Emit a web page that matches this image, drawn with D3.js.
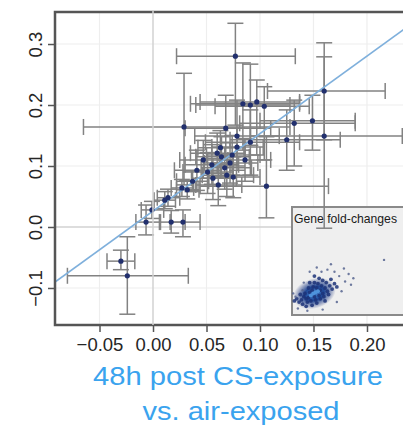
<!DOCTYPE html>
<html>
<head>
<meta charset="utf-8">
<script src="https://cdn.jsdelivr.net/npm/d3@7/dist/d3.min.js"></script>
<style>
    body { margin: 0; background: #fff; }
    svg { display: block; font-family: "Liberation Sans", Arial, sans-serif; }
    .axis text { fill: #262626; font-size: 18.5px; }
    .axis line { stroke: #555; stroke-width: 1.5; }
    .bar { stroke: #828282; stroke-width: 1.5; fill: none; }
    .dot { fill: #22306e; }
</style>
</head>
<body>
<svg id="chart"></svg>
<script>
// point estimates and 95% intervals
var estX  = [0.077, 0.160, 0.160, 0.029, 0.084, 0.091, 0.097, 0.104, 0.132, 0.149, 0.125, 0.106,
             0.068, 0.0785, 0.091, 0.041, 0.051, 0.055, 0.060, 0.064, 0.067, 0.072, 0.069, 0.074,
             0.0785, 0.056, 0.075, 0.047, 0.086, 0.061, 0.027, 0.014, 0.011, -0.001, -0.0065, 0.017,
             0.028, 0.032, -0.030, -0.024, 0.037, 0.063];
var estY  = [0.280, 0.223, 0.149, 0.164, 0.202, 0.200, 0.205, 0.198, 0.170, 0.174, 0.143, 0.067,
             0.162, 0.149, 0.139, 0.093, 0.090, 0.102, 0.121, 0.115, 0.097, 0.105, 0.085, 0.118,
             0.131, 0.080, 0.082, 0.110, 0.110, 0.069, 0.064, 0.048, 0.044, 0.028, 0.008, 0.008,
             0.008, 0.061, -0.056, -0.080, 0.075, 0.130];
var xLow  = [0.022, 0.107, 0.091, -0.065, 0.035, 0.040, 0.044, 0.058, 0.081, 0.100, 0.072, 0.044,
             0.030, 0.039, 0.049, 0.020, 0.028, 0.030, 0.035, 0.040, 0.045, 0.048, 0.046, 0.050,
             0.055, 0.036, 0.052, 0.025, 0.062, 0.040, 0.017, 0.004, 0.001, -0.011, -0.016, 0.007,
             0.016, 0.022, -0.043, -0.080, 0.022, 0.042];
var xHigh = [0.133, 0.217, 0.233, 0.128, 0.137, 0.128, 0.137, 0.146, 0.189, 0.189, 0.175, 0.164,
             0.110, 0.118, 0.137, 0.063, 0.075, 0.080, 0.086, 0.090, 0.092, 0.098, 0.094, 0.100,
             0.103, 0.078, 0.100, 0.070, 0.110, 0.083, 0.038, 0.025, 0.021, 0.010, 0.006, 0.030,
             0.044, 0.043, -0.017, 0.033, 0.052, 0.085];
var yLow  = [0.167, 0.143, -0.002, 0.069, 0.126, 0.134, 0.118, 0.110, 0.100, 0.126, 0.093, 0.015,
             0.110, 0.093, 0.085, 0.060, 0.055, 0.070, 0.088, 0.082, 0.062, 0.072, 0.050, 0.085,
             0.100, 0.045, 0.048, 0.080, 0.075, 0.035, 0.050, 0.034, 0.030, 0.014, -0.013, -0.010,
             -0.016, 0.046, -0.070, -0.143, 0.058, 0.105];
var yHigh = [0.334, 0.302, 0.279, 0.252, 0.269, 0.267, 0.241, 0.230, 0.208, 0.216, 0.192, 0.148,
             0.216, 0.208, 0.192, 0.126, 0.122, 0.135, 0.154, 0.148, 0.130, 0.138, 0.118, 0.150,
             0.162, 0.112, 0.115, 0.142, 0.145, 0.100, 0.078, 0.062, 0.058, 0.042, 0.036, 0.027,
             0.028, 0.076, -0.038, -0.016, 0.092, 0.158];

// regression line end points
var fitX = [-0.0916, 0.2402];
var fitY = [-0.0902, 0.3314];

var xTicks = [-0.05, 0.00, 0.05, 0.10, 0.15, 0.20];
var yTicks = [-0.1, 0.0, 0.1, 0.2, 0.3];

// inset: gene fold-changes cloud (relative units)
var geneU = [0.20, 0.18, 0.22, 0.16, 0.24, 0.19, 0.21, 0.14, 0.26, 0.17, 0.23, 0.12, 0.28, 0.15, 0.25,
             0.20, 0.10, 0.30, 0.18, 0.22, 0.13, 0.27, 0.08, 0.32, 0.16, 0.24, 0.11, 0.29, 0.19, 0.06,
             0.34, 0.14, 0.21, 0.09, 0.26, 0.31, 0.17, 0.04, 0.36, 0.12, 0.23, 0.07, 0.33, 0.28, 0.15,
             0.38, 0.02, 0.19, 0.40, 0.36, 0.30, 0.25, 0.42, 0.45, 0.10, 0.05, 0.13, 0.21, 0.48, 0.44,
             0.33, 0.50, 0.78, 0.38, 0.26, 0.15, 0.52, 0.01, 0.03, 0.09];
var geneV = [0.21, 0.20, 0.22, 0.18, 0.23, 0.17, 0.25, 0.16, 0.20, 0.23, 0.18, 0.15, 0.25, 0.21, 0.27,
             0.14, 0.17, 0.22, 0.26, 0.29, 0.12, 0.17, 0.14, 0.27, 0.13, 0.15, 0.20, 0.30, 0.30, 0.12,
             0.24, 0.25, 0.11, 0.10, 0.32, 0.19, 0.09, 0.15, 0.29, 0.08, 0.34, 0.19, 0.33, 0.13, 0.30,
             0.26, 0.13, 0.36, 0.36, 0.40, 0.42, 0.40, 0.22, 0.31, 0.30, 0.06, 0.04, 0.44, 0.38, 0.43,
             0.47, 0.28, 0.51, 0.12, 0.05, 0.40, 0.34, 0.20, 0.17, 0.23];

var margin = { top: 12, left: 55 },
    width = 355, height = 313;

var svg = d3.select("#chart").attr("width", 403).attr("height", 426);

var x = d3.scaleLinear().domain([-0.0916, 0.2402]).range([margin.left, margin.left + width]);
var y = d3.scaleLinear().domain([-0.1607, 0.3525]).range([margin.top + height, margin.top]);

var defs = svg.append("defs");
defs.append("clipPath").attr("id", "clip")
    .append("rect").attr("x", margin.left).attr("y", margin.top).attr("width", width).attr("height", height);
var grad = defs.append("radialGradient").attr("id", "blob");
grad.append("stop").attr("offset", "0%").attr("stop-color", "#4a8ad8");
grad.append("stop").attr("offset", "45%").attr("stop-color", "#1f4796");
grad.append("stop").attr("offset", "100%").attr("stop-color", "#1b2f78").attr("stop-opacity", 0);

var plot = svg.append("g").attr("clip-path", "url(#clip)");

// faint grid
plot.selectAll(".gx").data(xTicks.filter(function (d) { return d !== 0; }))
    .enter().append("line")
    .attr("x1", function (d) { return x(d); }).attr("x2", function (d) { return x(d); })
    .attr("y1", margin.top).attr("y2", margin.top + height)
    .attr("stroke", "#eeeeee").attr("stroke-width", 1.2);
plot.selectAll(".gy").data(yTicks.filter(function (d) { return d !== 0; }))
    .enter().append("line")
    .attr("y1", function (d) { return y(d); }).attr("y2", function (d) { return y(d); })
    .attr("x1", margin.left).attr("x2", margin.left + width)
    .attr("stroke", "#eeeeee").attr("stroke-width", 1.2);

plot.append("line").attr("x1", margin.left).attr("x2", margin.left + width)
    .attr("y1", y(0)).attr("y2", y(0)).attr("stroke", "#d2d2d2").attr("stroke-width", 1.5);

// inset panel
var ix = d3.scaleLinear().domain([0, 1]).range([292, 410]);
var iy = d3.scaleLinear().domain([0, 1]).range([315, 207]);
var inset = plot.append("g");
inset.append("rect").attr("x", 292).attr("y", 207).attr("width", 118).attr("height", 108)
    .attr("fill", "#efefef").attr("stroke", "#8a8a8a").attr("stroke-width", 2);
inset.append("ellipse").attr("cx", ix(0.19)).attr("cy", iy(0.2))
    .attr("rx", 22).attr("ry", 15).attr("fill", "url(#blob)")
    .attr("transform", "rotate(-18," + ix(0.19) + "," + iy(0.2) + ")");
inset.selectAll(".g").data(geneU).enter().append("circle")
    .attr("cx", function (d) { return ix(d); })
    .attr("cy", function (d, i) { return iy(geneV[i]); })
    .attr("r", function (d, i) { return i < 48 ? 1.9 : 1.2; })
    .attr("fill", function (d, i) { return i < 48 ? "#1c3278" : "#56648f"; })
    .attr("fill-opacity", 0.85);
inset.selectAll(".gc").data(geneU.slice(0, 4)).enter().append("circle")
    .attr("cx", function (d) { return ix(d); })
    .attr("cy", function (d, i) { return iy(geneV[i]); })
    .attr("r", 2).attr("fill", "#4f93dc");

// error bars
var cap = 8;
var bars = plot.append("g").attr("class", "bar");
estX.forEach(function (d, i) {
    var cx = x(d), cy = y(estY[i]);
    bars.append("line").attr("x1", x(xLow[i])).attr("x2", x(xHigh[i])).attr("y1", cy).attr("y2", cy);
    bars.append("line").attr("x1", x(xLow[i])).attr("x2", x(xLow[i])).attr("y1", cy - cap).attr("y2", cy + cap);
    bars.append("line").attr("x1", x(xHigh[i])).attr("x2", x(xHigh[i])).attr("y1", cy - cap).attr("y2", cy + cap);
    bars.append("line").attr("x1", cx).attr("x2", cx).attr("y1", y(yLow[i])).attr("y2", y(yHigh[i]));
    bars.append("line").attr("x1", cx - cap).attr("x2", cx + cap).attr("y1", y(yLow[i])).attr("y2", y(yLow[i]));
    bars.append("line").attr("x1", cx - cap).attr("x2", cx + cap).attr("y1", y(yHigh[i])).attr("y2", y(yHigh[i]));
});

// inset title
svg.append("text").attr("x", 294).attr("y", 223)
    .attr("font-size", "12.2px").attr("fill", "#1a1a1a")
    .text("Gene fold-changes");

// fit line
plot.append("line")
    .attr("x1", x(fitX[0])).attr("y1", y(fitY[0]))
    .attr("x2", x(fitX[1])).attr("y2", y(fitY[1]))
    .attr("stroke", "#7fb0dc").attr("stroke-width", 1.6);

plot.selectAll(".dot").data(estX).enter().append("circle")
    .attr("class", "dot")
    .attr("cx", function (d) { return x(d); })
    .attr("cy", function (d, i) { return y(estY[i]); })
    .attr("r", 2.6);

// frame
svg.append("rect").attr("x", margin.left).attr("y", margin.top)
    .attr("width", width).attr("height", height)
    .attr("fill", "none").attr("stroke", "#555").attr("stroke-width", 2.5);

svg.append("line").attr("x1", x(0)).attr("x2", x(0))
    .attr("y1", margin.top - 2).attr("y2", margin.top + height)
    .attr("stroke", "#d2d2d2").attr("stroke-width", 1.5);

// axes
var xAxis = d3.axisBottom(x).tickValues(xTicks).tickFormat(d3.format(".2f")).tickSize(6).tickSizeOuter(0);
svg.append("g").attr("class", "axis")
    .attr("transform", "translate(0," + (margin.top + height + 1) + ")")
    .call(xAxis)
    .call(function (g) { g.select(".domain").remove(); })
    .call(function (g) { g.selectAll("text").attr("y", 12).attr("dy", "0.71em"); });

var yAxis = d3.axisLeft(y).tickValues(yTicks).tickFormat(d3.format(".1f")).tickSize(6).tickSizeOuter(0);
svg.append("g").attr("class", "axis")
    .attr("transform", "translate(" + (margin.left - 1) + ",0)")
    .call(yAxis)
    .call(function (g) { g.select(".domain").remove(); })
    .call(function (g) {
        g.selectAll("text")
            .attr("transform", "rotate(-90)")
            .attr("x", 0).attr("y", -12).attr("dy", 0)
            .attr("text-anchor", "middle");
    });

// caption
svg.append("text").attr("x", 238).attr("y", 385)
    .attr("text-anchor", "middle").attr("fill", "#3aa3ee").attr("font-size", "26px")
    .attr("textLength", 290).attr("lengthAdjust", "spacingAndGlyphs")
    .text("48h post CS-exposure");
svg.append("text").attr("x", 241).attr("y", 420)
    .attr("text-anchor", "middle").attr("fill", "#3aa3ee").attr("font-size", "26px")
    .attr("textLength", 197).attr("lengthAdjust", "spacingAndGlyphs")
    .text("vs. air-exposed");
</script>
</body>
</html>
